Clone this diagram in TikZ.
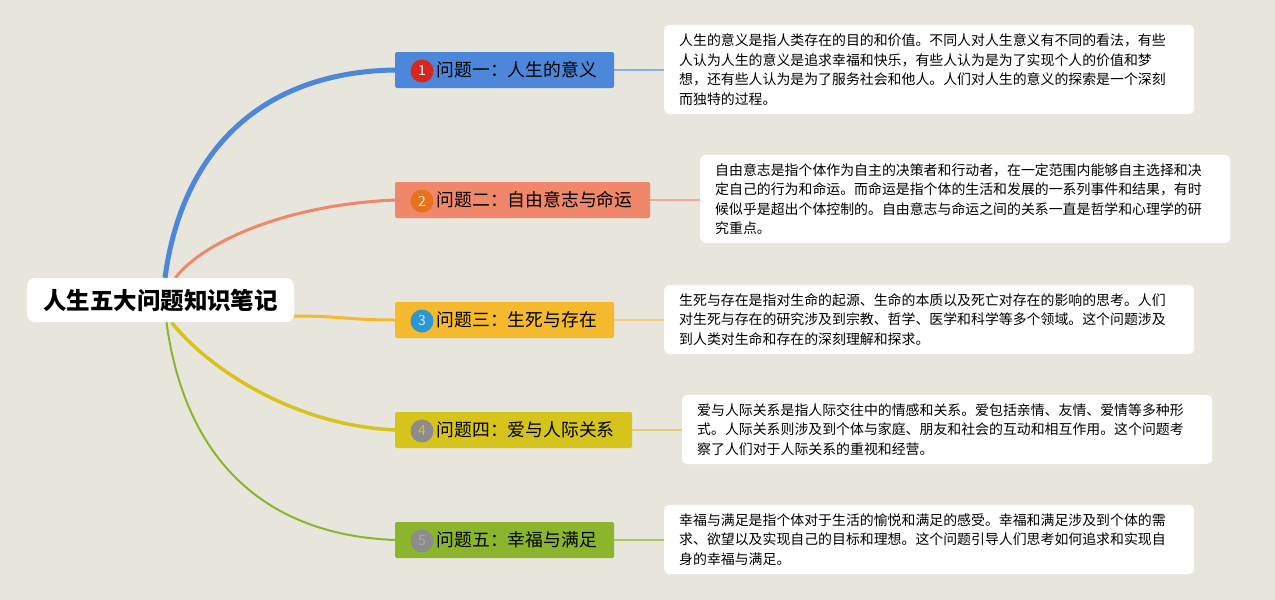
\documentclass[tikz,border=0pt]{standalone}
\usepackage{fontspec}
\setmainfont{Noto Sans CJK SC}
\definecolor{bgc}{HTML}{E8E5DD}
\definecolor{cblue}{HTML}{4C87D9}
\definecolor{corange}{HTML}{F0876A}
\definecolor{cyellow}{HTML}{F4B92C}
\definecolor{colive}{HTML}{D6C41C}
\definecolor{cgreen}{HTML}{8AB52C}
\definecolor{lblue}{HTML}{8AAEDD}
\definecolor{lorange}{HTML}{F0A890}
\definecolor{lyellow}{HTML}{F0CB7A}
\definecolor{lolive}{HTML}{DDD070}
\definecolor{lgreen}{HTML}{A8C860}
\definecolor{nred}{HTML}{D9261C}
\definecolor{norange}{HTML}{E8711C}
\definecolor{nblue}{HTML}{2D97D6}
\definecolor{ngray}{HTML}{8C8C8C}
\pgfdeclarelayer{bglayer}
\pgfdeclarelayer{linelayer}
\pgfsetlayers{bglayer,linelayer,main}
\begin{document}
\begin{tikzpicture}[x=1pt,y=-1pt,
  rootbox/.style={fill=white, rounded corners=8pt, minimum width=267pt, minimum height=44pt, inner sep=0pt, font=\fontsize{23.5}{28}\selectfont\bfseries},
  branch/.style={rounded corners=1.5pt, minimum height=36pt, inner sep=0pt, anchor=west},
  num/.style={circle, minimum size=23pt, inner sep=0pt, font=\fontsize{14}{14}\selectfont},
  blabel/.style={anchor=west, inner sep=0pt, font=\fontsize{17.8}{20}\selectfont},
  note/.style={fill=white, rounded corners=5pt, anchor=west, align=left, text width=500pt, inner xsep=15pt, inner ysep=0pt, font=\fontsize{13.9}{19.5}\selectfont},
  thinlink/.style={line width=1.5pt},
]
\useasboundingbox (0,0) rectangle (1275,600);
\begin{pgfonlayer}{bglayer}
\fill[bgc] (0,0) rectangle (1275,600);
\end{pgfonlayer}

\node[rootbox] (root) at (160.5,300) {人生五大问题知识笔记};

\node[branch, fill=cblue, minimum width=219pt] (b1) at (395,70) {};
\node[num, fill=nred, text=white] (n1) at (422,71) {1};
\node[blabel] (l1) at (436.5,70) {问题一：人生的意义};

\node[branch, fill=corange, minimum width=255pt] (b2) at (395,200) {};
\node[num, fill=norange, text=white!80!orange] (n2) at (422,201) {2};
\node[blabel] (l2) at (436.5,200) {问题二：自由意志与命运};

\node[branch, fill=cyellow, minimum width=219pt] (b3) at (395,320) {};
\node[num, fill=nblue, text=white!75!nblue] (n3) at (422,321) {3};
\node[blabel] (l3) at (436.5,320) {问题三：生死与存在};

\node[branch, fill=colive, minimum width=237pt] (b4) at (395,430) {};
\node[num, fill=ngray, text=colive] (n4) at (422,431) {4};
\node[blabel] (l4) at (436.5,430) {问题四：爱与人际关系};

\node[branch, fill=cgreen, minimum width=219pt] (b5) at (395,540) {};
\node[num, fill=ngray, text=ngray!75!white] (n5) at (422,541) {5};
\node[blabel] (l5) at (436.5,540) {问题五：幸福与满足};

\node[note, minimum height=89pt] (t1) at (664,69.5) {人生的意义是指人类存在的目的和价值。不同人对人生意义有不同的看法，有些\\人认为人生的意义是追求幸福和快乐，有些人认为是为了实现个人的价值和梦\\想，还有些人认为是为了服务社会和他人。人们对人生的意义的探索是一个深刻\\而独特的过程。};
\node[note, minimum height=88pt] (t2) at (700,199) {自由意志是指个体作为自主的决策者和行动者，在一定范围内能够自主选择和决\\定自己的行为和命运。而命运是指个体的生活和发展的一系列事件和结果，有时\\候似乎是超出个体控制的。自由意志与命运之间的关系一直是哲学和心理学的研\\究重点。};
\node[note, minimum height=69pt] (t3) at (664,319.5) {生死与存在是指对生命的起源、生命的本质以及死亡对存在的影响的思考。人们\\对生死与存在的研究涉及到宗教、哲学、医学和科学等多个领域。这个问题涉及\\到人类对生命和存在的深刻理解和探求。};
\node[note, minimum height=69pt] (t4) at (682,429.5) {爱与人际关系是指人际交往中的情感和关系。爱包括亲情、友情、爱情等多种形\\式。人际关系则涉及到个体与家庭、朋友和社会的互动和相互作用。这个问题考\\察了人们对于人际关系的重视和经营。};
\node[note, minimum height=69pt] (t5) at (664,539.5) {幸福与满足是指个体对于生活的愉悦和满足的感受。幸福和满足涉及到个体的需\\求、欲望以及实现自己的目标和理想。这个问题引导人们思考如何追求和实现自\\身的幸福与满足。};

\begin{pgfonlayer}{linelayer}
\draw[line width=5pt, cblue] ([xshift=4.5pt]root.north) .. controls (182,150) and (262,72) .. (b1.west);
\draw[line width=3pt, corange] ([xshift=15pt]root.north) .. controls (200,245) and (280,205) .. (b2.west);
\draw[line width=3pt, cyellow] ([yshift=-16pt]root.east) .. controls (340,316) and (350,320) .. (b3.west);
\draw[line width=3.5pt, colive] ([xshift=11pt]root.south) .. controls (205,365) and (290,425) .. (b4.west);
\draw[line width=2pt, cgreen] ([xshift=6pt]root.south) .. controls (185,460) and (265,535) .. (b5.west);
\draw[thinlink, lblue] (b1.east) -- (t1.west |- b1.east);
\draw[thinlink, lorange] (b2.east) -- (t2.west |- b2.east);
\draw[thinlink, lyellow] (b3.east) -- (t3.west |- b3.east);
\draw[thinlink, lolive] (b4.east) -- (t4.west |- b4.east);
\draw[thinlink, lgreen] (b5.east) -- (t5.west |- b5.east);
\end{pgfonlayer}
\end{tikzpicture}
\end{document}
